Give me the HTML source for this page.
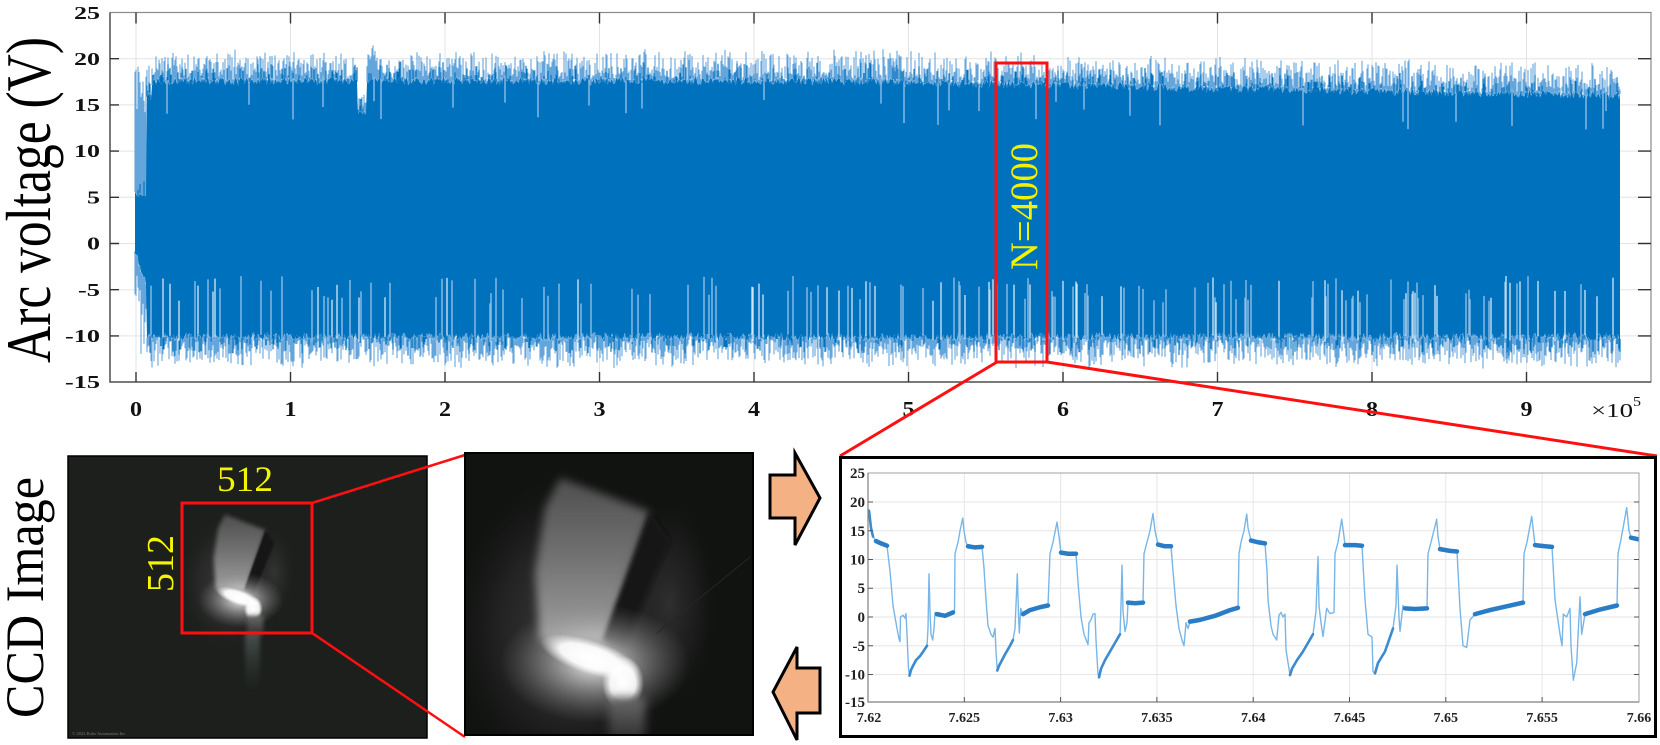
<!DOCTYPE html>
<html><head><meta charset="utf-8">
<style>
html,body{margin:0;padding:0;background:#fff;}
svg{display:block;}
text{font-family:"Liberation Serif","Times New Roman",serif;}
</style></head><body>
<svg id="s" width="1660" height="745" viewBox="0 0 1660 745" xmlns="http://www.w3.org/2000/svg">
<defs>
 <clipPath id="cTop"><rect x="110" y="12.5" width="1541" height="369.5"/></clipPath>
 <clipPath id="cBot"><rect x="868" y="473" width="771" height="229"/></clipPath>
 <clipPath id="cI1"><rect x="68" y="456" width="359" height="282"/></clipPath>
 <clipPath id="cI2"><rect x="465" y="453" width="288" height="282"/></clipPath>
 <filter id="b2" x="-30%" y="-30%" width="160%" height="160%"><feGaussianBlur stdDeviation="2"/></filter>
 <filter id="b4" x="-40%" y="-40%" width="180%" height="180%"><feGaussianBlur stdDeviation="4.5"/></filter>
 <radialGradient id="gHaze"><stop offset="0" stop-color="#404040" stop-opacity="1"/><stop offset="0.6" stop-color="#2e2e2e" stop-opacity="0.6"/><stop offset="1" stop-color="#202020" stop-opacity="0"/></radialGradient>
 <linearGradient id="gNoz" x1="0" y1="0" x2="0" y2="1"><stop offset="0" stop-color="#4e4e4e"/><stop offset="0.5" stop-color="#737373"/><stop offset="1" stop-color="#a0a0a0"/></linearGradient>
 <radialGradient id="gGlow"><stop offset="0" stop-color="#ffffff" stop-opacity="0.95"/><stop offset="0.45" stop-color="#d0d0d0" stop-opacity="0.5"/><stop offset="1" stop-color="#909090" stop-opacity="0"/></radialGradient>
 <radialGradient id="gCore"><stop offset="0" stop-color="#ffffff"/><stop offset="0.6" stop-color="#ffffff" stop-opacity="0.92"/><stop offset="1" stop-color="#ffffff" stop-opacity="0"/></radialGradient>
 <linearGradient id="gCol" x1="0" y1="0" x2="0" y2="1"><stop offset="0" stop-color="#6a6a6a"/><stop offset="1" stop-color="#2c2c2c"/></linearGradient>
 <linearGradient id="gCol1" x1="0" y1="0" x2="0" y2="1"><stop offset="0" stop-color="#6f7c7c" stop-opacity="0.55"/><stop offset="1" stop-color="#3a4242" stop-opacity="0"/></linearGradient>
 <g id="scene">
  <ellipse cx="105" cy="175" rx="115" ry="150" fill="url(#gHaze)"/>
  <ellipse cx="205" cy="150" rx="45" ry="100" fill="url(#gHaze)" opacity="0.6"/>
  <polygon points="95,25 185,59 140,190 75,188 70,120 80,55" fill="url(#gNoz)" filter="url(#b4)"/>
  <polygon points="185,59 205,87 158,197 138,187" fill="#121212" filter="url(#b2)"/>
  <ellipse cx="130" cy="210" rx="95" ry="60" fill="url(#gGlow)"/>
  <ellipse cx="125" cy="204" rx="52" ry="17" fill="url(#gCore)" transform="rotate(18 125 204)"/>
  <ellipse cx="158" cy="230" rx="21" ry="27" fill="url(#gCore)"/>
  <rect x="144" y="244" width="36" height="44" fill="url(#gCol)" filter="url(#b4)"/>
 </g>
</defs>
<rect width="1660" height="745" fill="#fff"/>

<!-- ===== TOP PLOT ===== -->
<g stroke="#e3e3e3" stroke-width="1">
 <path d="M136 12.5V382M290.5 12.5V382M445 12.5V382M599.5 12.5V382M754 12.5V382M908.5 12.5V382M1063 12.5V382M1217.5 12.5V382M1372 12.5V382M1526.5 12.5V382"/>
 <path d="M110 58.7H1651M110 104.9H1651M110 151.1H1651M110 197.3H1651M110 243.5H1651M110 289.7H1651M110 335.9H1651"/>
</g>
<g id="wave" clip-path="url(#cTop)">
 <rect id="fb" x="140" y="86" width="1480" height="248" fill="#0072BD"/>
</g>
<rect x="110" y="12.5" width="1541" height="369.5" fill="none" stroke="#8a8a8a" stroke-width="1.2"/>
<path d="M110 12.5V382H1651" fill="none" stroke="#555" stroke-width="1.5"/>
<g stroke="#333" stroke-width="1.4">
 <path d="M136 382v-10M290.5 382v-10M445 382v-10M599.5 382v-10M754 382v-10M908.5 382v-10M1063 382v-10M1217.5 382v-10M1372 382v-10M1526.5 382v-10"/>
 <path d="M136 12.5v11M290.5 12.5v11M445 12.5v11M599.5 12.5v11M754 12.5v11M908.5 12.5v11M1063 12.5v11M1217.5 12.5v11M1372 12.5v11M1526.5 12.5v11"/>
 <path d="M110 58.7h9M110 104.9h9M110 151.1h9M110 197.3h9M110 243.5h9M110 289.7h9M110 335.9h9"/>
 <path d="M1651 58.7h-13M1651 104.9h-13M1651 151.1h-13M1651 197.3h-13M1651 243.5h-13M1651 289.7h-13M1651 335.9h-13"/>
</g>
<g font-size="18" font-weight="bold" fill="#111">
 <text x="74" y="19" textLength="26" lengthAdjust="spacingAndGlyphs">25</text>
 <text x="74" y="65" textLength="26" lengthAdjust="spacingAndGlyphs">20</text>
 <text x="74" y="111" textLength="26" lengthAdjust="spacingAndGlyphs">15</text>
 <text x="74" y="157" textLength="26" lengthAdjust="spacingAndGlyphs">10</text>
 <text x="87" y="203.5" textLength="13" lengthAdjust="spacingAndGlyphs">5</text>
 <text x="87" y="249.5" textLength="13" lengthAdjust="spacingAndGlyphs">0</text>
 <text x="78" y="296" textLength="22" lengthAdjust="spacingAndGlyphs">-5</text>
 <text x="65" y="342" textLength="35" lengthAdjust="spacingAndGlyphs">-10</text>
 <text x="65" y="388" textLength="35" lengthAdjust="spacingAndGlyphs">-15</text>
</g>
<g font-size="21" font-weight="bold" fill="#111">
 <text x="130" y="416" textLength="12" lengthAdjust="spacingAndGlyphs">0</text>
 <text x="284.5" y="416" textLength="12" lengthAdjust="spacingAndGlyphs">1</text>
 <text x="439" y="416" textLength="12" lengthAdjust="spacingAndGlyphs">2</text>
 <text x="593.5" y="416" textLength="12" lengthAdjust="spacingAndGlyphs">3</text>
 <text x="748" y="416" textLength="12" lengthAdjust="spacingAndGlyphs">4</text>
 <text x="902.5" y="416" textLength="12" lengthAdjust="spacingAndGlyphs">5</text>
 <text x="1057" y="416" textLength="12" lengthAdjust="spacingAndGlyphs">6</text>
 <text x="1211.5" y="416" textLength="12" lengthAdjust="spacingAndGlyphs">7</text>
 <text x="1366" y="416" textLength="12" lengthAdjust="spacingAndGlyphs">8</text>
 <text x="1520.5" y="416" textLength="12" lengthAdjust="spacingAndGlyphs">9</text>
</g>
<text x="1591" y="417" font-size="20" fill="#111" textLength="42" lengthAdjust="spacingAndGlyphs">×10</text>
<text x="1633" y="406" font-size="14" fill="#111" textLength="8" lengthAdjust="spacingAndGlyphs">5</text>
<text transform="translate(50,200) scale(1.23,1) rotate(-90)" x="-163" y="0" font-size="51.7" fill="#000" textLength="326" lengthAdjust="spacingAndGlyphs">Arc voltage (V)</text>

<!-- red selection -->
<rect x="996" y="63" width="51" height="299" fill="none" stroke="#ff1010" stroke-width="3"/>
<text transform="translate(1037,206.5) rotate(-90)" x="-63.5" y="0" font-size="39" fill="#f2f200" textLength="127" lengthAdjust="spacingAndGlyphs">N=4000</text>
<path d="M997 362L840 456M1047 362L1657 456" stroke="#ff1010" stroke-width="3" fill="none"/>

<!-- ===== CCD IMAGES ===== -->
<text transform="translate(43,597.5) scale(1.09,1) rotate(-90)" x="-120.5" y="0" font-size="50" fill="#000" textLength="241" lengthAdjust="spacingAndGlyphs">CCD Image</text>
<g clip-path="url(#cI1)">
 <rect x="68" y="456" width="359" height="282" fill="#1c1f1c"/>
 <use href="#scene" transform="translate(182,503) scale(0.4514,0.461)"/>
 <rect x="245" y="633" width="15" height="60" fill="url(#gCol1)" filter="url(#b2)"/>
 <text x="72" y="735" font-size="4.5" fill="#777">© 2022 Bolis Automation Inc</text>
</g>
<rect x="68" y="456" width="359" height="282" fill="none" stroke="#000" stroke-width="1.5"/>
<rect x="182" y="503" width="130" height="130" fill="none" stroke="#ff1010" stroke-width="3"/>
<text x="217" y="491" font-size="36" fill="#f5f500" textLength="56" lengthAdjust="spacingAndGlyphs">512</text>
<text transform="translate(173,563.5) rotate(-90)" x="-28.5" y="0" font-size="38" fill="#f5f500" textLength="57" lengthAdjust="spacingAndGlyphs">512</text>
<path d="M312 503L465 455M312 633L465 737" stroke="#ff1010" stroke-width="2.5" fill="none"/>

<g clip-path="url(#cI2)">
 <rect x="465" y="453" width="288" height="282" fill="#111311"/>
 <use href="#scene" transform="translate(465,453)"/>
 <path d="M657 633L750 557" stroke="#262626" stroke-width="1"/>
</g>
<rect x="465" y="453" width="288" height="282" fill="none" stroke="#000" stroke-width="2"/>

<!-- arrows -->
<polygon points="770,475 795,475 795,453 820,498 795,545 795,518 770,518" fill="#f4b183" stroke="#000" stroke-width="3" stroke-linejoin="miter"/>
<polygon points="820,668 797,668 797,647 773,692 797,740 797,713 820,713" fill="#f4b183" stroke="#000" stroke-width="3" stroke-linejoin="miter"/>

<!-- ===== BOTTOM RIGHT ZOOM PLOT ===== -->
<rect x="840.5" y="457.5" width="815" height="279" fill="#fff" stroke="#000" stroke-width="3"/>
<g stroke="#e6e6e6" stroke-width="1">
 <path d="M964.3 473V702M1060.6 473V702M1156.9 473V702M1253.2 473V702M1349.5 473V702M1445.8 473V702M1542.1 473V702"/>
 <path d="M868 502H1639M868 530.8H1639M868 559.5H1639M868 588.3H1639M868 617H1639M868 645.8H1639M868 674.5H1639"/>
</g>
<g clip-path="url(#cBot)">
 <g transform="matrix(1 0 0 -5.75 0 617)" fill="none" stroke-linejoin="round" stroke-linecap="round">
  <path vector-effect="non-scaling-stroke" stroke="#78b6e8" stroke-width="1.4" d="M869 18.5 L871 15.5 873 14 876 13.2 881 12.8 887 12.4 890 8 893 2 896.5 -1.5 899 -3.8 900 -4.3 900.5 0 903 0.3 905 -0.2 906 0.6 907 -3 908.5 -9 909.5 -10.2 911 -9.2 913 -8.5 916 -7.5 920 -6.8 924 -5.8 927 -5 928 -2 929 7.5 930 1 931 -3 932.7 -4 934 -2 935 0.8 937 0.5 945 0.2 953 0.8 954.5 1 955 11 958 13 960 15 962.7 17.2 964 15 966 13 968 12.3 975 12.1 982 12.2 984 8.5 986 3 988 -1.5 991 -3 993 -3.5 995 -2 996 -6 997.3 -9.3 999 -8.5 1005 -6.5 1010 -5 1013 -4 1015 -2 1017.3 7.5 1018.5 0.5 1019.3 -2.8 1020.7 1.5 1023 0.5 1030 1.2 1040 1.7 1048 2 1050 11 1053 13 1057 16.5 1059 14 1061 11.2 1068 11 1076 11 1078 6 1081 0 1084 -3 1088 -4.8 1089 -1 1091 -0.5 1093 0.5 1095 0.6 1096 -4 1098 -10 1099 -10.5 1101 -9 1105 -7.5 1110 -6 1115 -4.5 1120 -3 1121 2 1122 9 1123 1 1125 -2.5 1127 -1 1128 2.5 1135 2.4 1143 2.5 1144 11 1147 13 1150 15 1153 18 1155 15 1158 12.6 1165 12.3 1171 12.3 1173 8 1176 2 1179 -2 1182 -4 1184 -5 1186 -1 1188 -2 1190 -0.8 1200 -0.5 1215 0.2 1230 1.2 1238 1.6 1239 11 1241 13 1244 15 1246.7 17.9 1248 15.5 1251 13.3 1258 13 1265 12.8 1267 8 1268 3 1271 -1.5 1273 -3 1276.7 -4 1279 0.3 1281 0.8 1283 0 1285 0.5 1286 -5.7 1290 -10.1 1292 -9 1297 -7.5 1303 -6 1308 -4.5 1313 -3 1316 1 1318 10.5 1319 2 1321 -1 1323 -3.4 1326.7 1.5 1330 0.6 1334 0.8 1335 11 1338 13 1341.7 17 1344 14 1345 12.5 1355 12.5 1362 12.4 1365 3 1368 -3 1372 -3.5 1373 -9.5 1375 -9.8 1378 -8 1385 -6 1393 -2 1396 2 1397 9 1399 0 1400 -2.5 1403 2 1405 1.5 1415 1.4 1427 1.5 1428 11 1431 13 1436.7 17 1438 14 1440 11.8 1450 11.5 1457 11.4 1460 1.5 1463 -5 1466.7 -5.3 1470 -0.5 1475 0.5 1490 1.2 1505 1.8 1523 2.5 1524 11 1527 13 1531.7 17.5 1534 14 1535 12.5 1545 12.3 1552 12.2 1555 3 1560 -3 1562 -5 1563.3 0.5 1566.7 0 1570 1.5 1571 -5 1573.3 -11 1576.7 -8 1580 3.5 1581.7 -3 1585 0.5 1600 1.3 1617 2 1618 11 1621 13.5 1626.7 19 1629 15 1631 13.8 1639 13.5"/>
  <path vector-effect="non-scaling-stroke" stroke="#3a8bd0" stroke-width="2.6" d="M909.5 -10.2 L911 -9.2 913 -8.5 916 -7.5 920 -6.8 924 -5.8 927 -5 M997.3 -9.3 L999 -8.5 1005 -6.5 1010 -5 1013 -4 M1099 -10.5 L1101 -9 1105 -7.5 1110 -6 1115 -4.5 1120 -3 M1290 -10.1 L1292 -9 1297 -7.5 1303 -6 1308 -4.5 1313 -3 M1375 -9.8 L1378 -8 1385 -6 1393 -2 M869 18.5 L871 15.5 873 14"/>
  <path vector-effect="non-scaling-stroke" stroke="#2a7cc6" stroke-width="4.5" d="M876 13.2 L881 12.8 887 12.4 M937 0.5 L945 0.2 953 0.8 M968 12.3 L975 12.1 982 12.2 M1023 0.5 L1030 1.2 1040 1.7 1048 2 M1061 11.2 L1068 11 1076 11 M1128 2.5 L1135 2.4 1143 2.5 M1158 12.6 L1165 12.3 1171 12.3 M1190 -0.8 L1200 -0.5 1215 0.2 1230 1.2 1238 1.6 M1251 13.3 L1258 13 1265 12.8 M1345 12.5 L1355 12.5 1362 12.4 M1405 1.5 L1415 1.4 1427 1.5 M1440 11.8 L1450 11.5 1457 11.4 M1475 0.5 L1490 1.2 1505 1.8 1523 2.5 M1535 12.5 L1545 12.3 1552 12.2 M1585 0.5 L1600 1.3 1617 2 M1631 13.8 L1639 13.5"/>
 </g>
</g>
<rect x="868" y="473" width="771" height="229" fill="none" stroke="#a0a0a0" stroke-width="1"/>
<path d="M868 473V702H1639" fill="none" stroke="#808080" stroke-width="1.2"/>
<g stroke="#555" stroke-width="1">
 <path d="M964.3 702v-5M1060.6 702v-5M1156.9 702v-5M1253.2 702v-5M1349.5 702v-5M1445.8 702v-5M1542.1 702v-5"/>
 <path d="M868 502h5M868 530.8h5M868 559.5h5M868 588.3h5M868 617h5M868 645.8h5M868 674.5h5"/>
 <path d="M1639 502h-5M1639 530.8h-5M1639 559.5h-5M1639 588.3h-5M1639 617h-5M1639 645.8h-5M1639 674.5h-5"/>
</g>
<g font-size="15" font-weight="bold" fill="#222" text-anchor="end">
 <text x="865" y="478">25</text>
 <text x="865" y="507">20</text>
 <text x="865" y="536">15</text>
 <text x="865" y="564.5">10</text>
 <text x="865" y="593">5</text>
 <text x="865" y="622">0</text>
 <text x="865" y="651">-5</text>
 <text x="865" y="679.5">-10</text>
 <text x="865" y="707">-15</text>
</g>
<g font-size="14" font-weight="bold" fill="#222" text-anchor="middle">
 <text x="869" y="722">7.62</text>
 <text x="964.3" y="722">7.625</text>
 <text x="1060.6" y="722">7.63</text>
 <text x="1156.9" y="722">7.635</text>
 <text x="1253.2" y="722">7.64</text>
 <text x="1349.5" y="722">7.645</text>
 <text x="1445.8" y="722">7.65</text>
 <text x="1542.1" y="722">7.655</text>
 <text x="1639" y="722">7.66</text>
</g>
<rect x="840.5" y="457.5" width="815" height="279" fill="none" stroke="#000" stroke-width="3"/>
</svg>
<script>
(function(){
var NS='http://www.w3.org/2000/svg';
var seed=987654321;
function R(){seed^=seed<<13;seed^=seed>>>17;seed^=seed<<5;return ((seed>>>0)%100000)/100000;}
function Y(v){return (243.5-v*9.24).toFixed(1);}
var fr='',dk='',gp='',gw='',top=[],bot=[];
for(var x=135;x<=1620;x++){
 var t=(x-136)/154.5,bt,bb,ft,fb;
 if(x<147){
   bt=5.6-R()*0.6; bb=-0.5-(x-135)*0.3-R();
   ft=14+R()*5.5; fb=bb-2-R()*(x>140?9:3);
 } else {
   bt=18.0-1.6*Math.max(0,t-4.5)/5.1-R()*0.9;
   if(x<152) bt=15.5+R();
   bb=-9.6-R()*0.9;
   ft=bt+0.4+Math.pow(R(),1.5)*2.8;
   fb=bb-0.3-Math.pow(R(),1.3)*2.8;
   if(x>=358&&x<=366){bt=13.6+R()*0.8;ft=bt+R()*2;}
   if(x>366&&x<378){ft=bt+1.5+R()*2.5;}
 }
 top.push(x+','+Y(bt)); bot.push(x+','+Y(bb));
 fr+='M'+x+' '+Y(ft)+'V'+Y(bt)+'M'+x+' '+Y(bb)+'V'+Y(fb);
 if(R()<0.3) dk+='M'+x+' '+Y(bt)+'V'+Y(bt+R()*1.8);
 if(R()<0.3) dk+='M'+x+' '+Y(bb)+'V'+Y(bb-R()*1.8);
 if(x>150){
  var p=x>900?0.15:0.1;
  if(R()<p){var g='M'+x+' '+Y(bb-0.2)+'V'+Y(-3.5-R()*3); if(R()<0.35) gw+=g; else gp+=g;}
  if(R()<0.025){gp+='M'+x+' '+Y(bt+0.2)+'V'+Y(bt-1.5-R()*3);}
 }
}
var w=document.getElementById('wave');
var f=document.getElementById('fb'); if(f) f.parentNode.removeChild(f);
function P(d,c,sw){var e=document.createElementNS(NS,'path');e.setAttribute('d',d);e.setAttribute('stroke',c);e.setAttribute('stroke-width',sw);e.setAttribute('fill','none');w.appendChild(e);}
P(fr,'#64a5db',1.1);
var poly=document.createElementNS(NS,'polygon');
poly.setAttribute('points',top.concat(bot.reverse()).join(' '));
poly.setAttribute('fill','#0072BD');
w.appendChild(poly);
P(dk,'#0072BD',1.1);
P(gp,'#8dbde6',1.4);
P(gw,'#d4e6f6',1.3);
})();
</script>
</body></html>
